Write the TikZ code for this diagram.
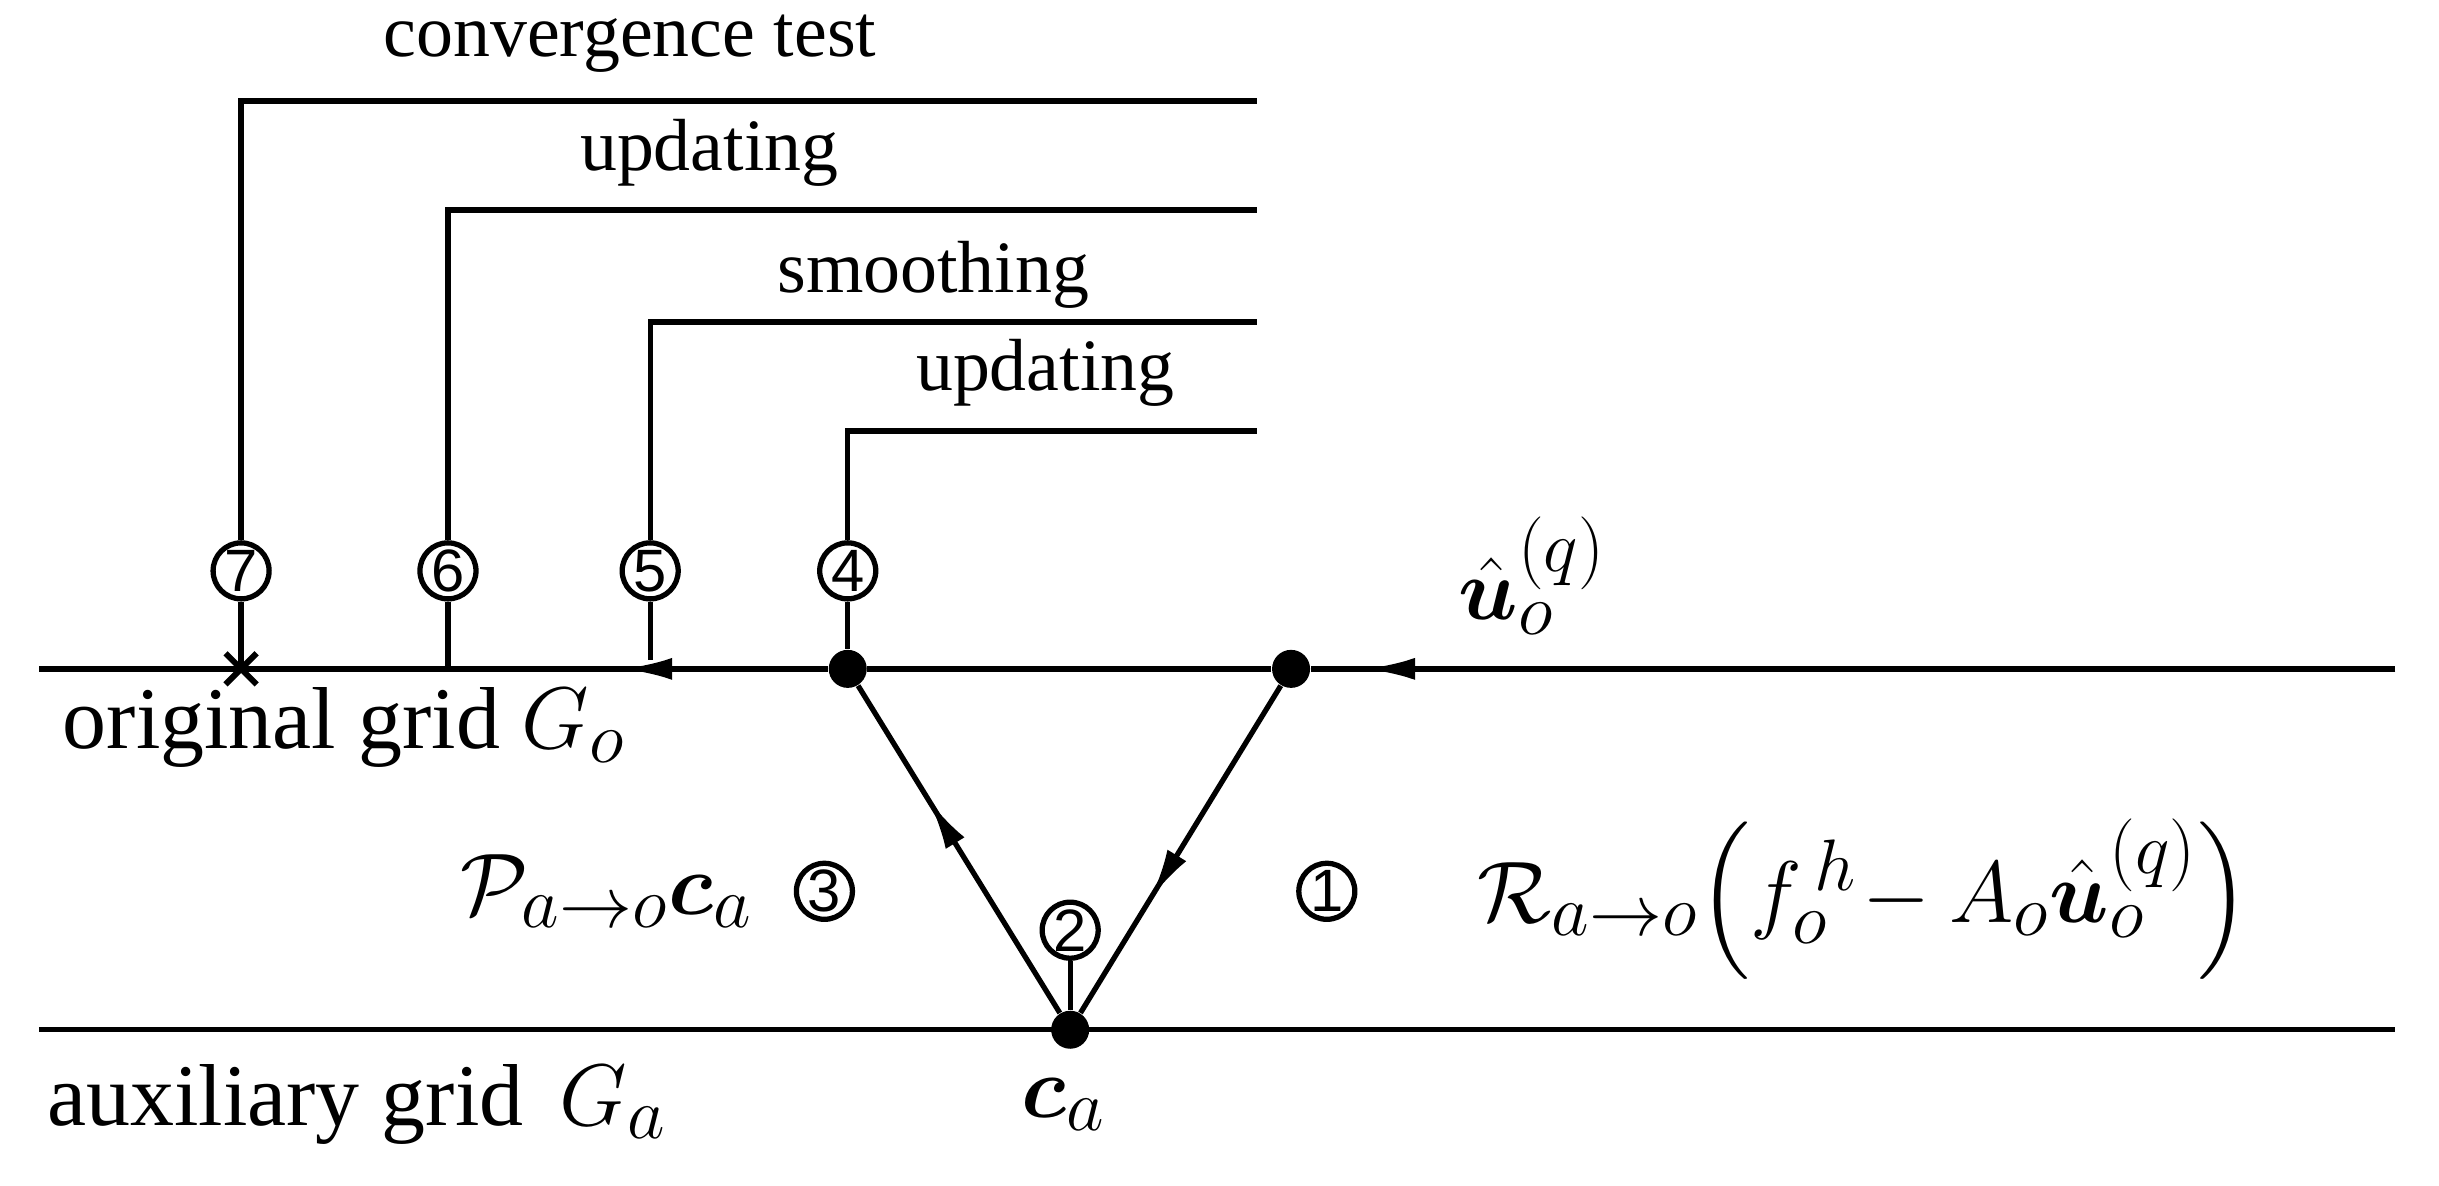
\documentclass[tikz,border=0pt]{standalone}
\usepackage{fontspec}
\setmainfont{Liberation Serif}
\newfontfamily\sff{Liberation Sans}
\usepackage{amsmath,bm}
\usetikzlibrary{arrows.meta,decorations.markings}
\begin{document}
\begin{tikzpicture}[x=0.01555cm,y=-0.01555cm,
  ln/.style={line width=1.5pt},
  num/.style={circle,draw,line width=1.5pt,inner sep=0pt,minimum size=0.56cm,font=\sff\fontsize{17}{17}\selectfont},
  dot/.style={circle,fill,inner sep=0pt,minimum size=0.38cm},
  lbl/.style={font=\fontsize{21}{24}\selectfont,inner sep=0pt},
  glbl/.style={font=\fontsize{25}{28}\selectfont,inner sep=0pt},
  mth/.style={font=\fontsize{28}{32}\selectfont,inner sep=0pt},
  tip/.style={postaction={decorate},decoration={markings,mark=at position #1 with {\arrow{Latex[length=0.5cm,width=0.22cm]}}}}]
\useasboundingbox (0,0) rectangle (1568,762);
\coordinate (oL) at (25,430); \coordinate (oR) at (1540,430);
\coordinate (aL) at (25,662); \coordinate (aR) at (1540,662);
\draw[ln] (aL) -- (aR);
\node[dot] (d1) at (830,430) {};
\node[dot] (d4) at (545,430) {};
\node[dot] (d2) at (688,662) {};
\coordinate (a5) at (400,430);
\draw[ln,tip=0.95] (oR) -- (d1);
\draw[ln] (d1) -- (d4);
\draw[ln,tip=1] (d4) -- (a5);
\draw[ln] (a5) -- (oL);
\draw[ln,tip=0.65] (d1) -- (d2);
\draw[ln,tip=0.65] (d2) -- (d4);
\node[inner sep=0pt] (x7) at (155,430) {};
\draw[line width=1.7pt] (145,420) -- (165,440) (145,440) -- (165,420);
\node[num] (n7) at (155,367) {7};
\node[num] (n6) at (288,367) {6};
\node[num] (n5) at (418,367) {5};
\node[num] (n4) at (545,367) {4};
\coordinate (t7) at (155,65); \coordinate (e7) at (808,65);
\coordinate (t6) at (288,135); \coordinate (e6) at (808,135);
\coordinate (t5) at (418,207); \coordinate (e5) at (808,207);
\coordinate (t4) at (545,277); \coordinate (e4) at (808,277);
\coordinate (b6) at (288,430); \coordinate (b5) at (418,424);
\draw[ln] (x7) -- (n7) -- (t7) -- (e7);
\draw[ln] (b6) -- (n6) -- (t6) -- (e6);
\draw[ln] (b5) -- (n5) -- (t5) -- (e5);
\draw[ln] (d4) -- (n4) -- (t4) -- (e4);
\node[lbl] (l7) at (405,28) {convergence test};
\node[lbl] (l6) at (456,98) {updating};
\node[lbl] (l5) at (600,177) {smoothing};
\node[lbl] (l4) at (672,240) {updating};
\node[num] (n2) at (688,598) {2};
\draw[ln] (n2) -- (d2);
\node[num] (n1) at (853,573) {1};
\node[num] (n3) at (530,573) {3};
\node[glbl,anchor=west] (og) at (40,468) {original grid \fontsize{28}{32}\selectfont$G_o$};
\node[glbl,anchor=west] (ag) at (30,710) {auxiliary grid\, \fontsize{28}{32}\selectfont$G_a$};
\node[mth] (u) at (985,370) {$\hat{\bm u}_o^{(q)}$};
\node[mth] (P) at (390,573) {$\mathcal P_{a\to o}\bm c_a$};
\node[mth] (R) at (1198,578) {$\mathcal R_{a\to o}\Big(f_o^{\,h}\!-A_o\hat{\bm u}_o^{(q)}\Big)$};
\node[mth] (c) at (684,710) {$\bm c_a$};
\end{tikzpicture}
\end{document}
